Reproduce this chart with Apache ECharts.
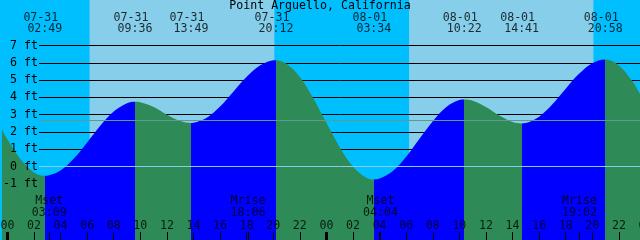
<!DOCTYPE html>
<html><head><meta charset="utf-8">
<script src="https://cdn.jsdelivr.net/npm/echarts@6/dist/echarts.min.js"></script>
<style>html,body{margin:0;padding:0;background:#00BFFF}#c{width:640px;height:240px}</style>
</head><body><div id="c"></div>
<script>
// ---------- data (times are hours after 07-31 00:00) ----------
const TITLE = 'Point Arguello, California';
const DAYS = ['07-31', '08-01'];
const WINDOW_START = -0.4125;
const WINDOW_END = 47.5875;

const extremeDates = ['07-31', '07-31', '07-31', '07-31', '08-01', '08-01', '08-01', '08-01'];
const extremeClock = ['02:49', '09:36', '13:49', '20:12', '03:34', '10:22', '14:41', '20:58'];
const extremeKinds = ['low', 'high', 'low', 'high', 'low', 'high', 'low', 'high'];

const moonDates = ['07-31', '07-31', '08-01', '08-01'];
const moonNames = ['Mset', 'Mrise', 'Mset', 'Mrise'];
const moonClock = ['03:09', '18:06', '04:04', '19:02'];

const sunriseDates = ['07-31', '08-01'];
const sunriseClock = ['06:11', '06:13'];
const sunsetClock = ['20:05', '20:05'];

// tide height (ft)
const tideHours = [-0.41, 0, 1, 2, 2.82, 3, 4, 5, 6, 7, 8, 9, 9.6, 10, 11, 12, 13, 13.82, 14, 15, 16, 17, 18, 19, 20, 20.2,
  21, 22, 23, 24, 25, 26, 27, 27.57, 28, 29, 30, 31, 32, 33, 34, 34.37, 35, 36, 37, 38, 38.68, 39, 40, 41, 42, 43, 44, 44.97, 46, 47, 47.59];
const tideFeet = [2.13, 1.57, 0.40, -0.34, -0.54, -0.53, -0.23, 0.46, 1.39, 2.37, 3.18, 3.66, 3.74, 3.71, 3.44, 3.00, 2.63, 2.52, 2.53, 2.82,
  3.47, 4.33, 5.19, 5.84, 6.14, 6.15, 5.95, 5.18, 3.97, 2.53, 1.12, -0.01, -0.65, -0.75, -0.70, -0.26, 0.56, 1.60, 2.62, 3.43, 3.84, 3.87,
  3.80, 3.44, 2.95, 2.57, 2.49, 2.51, 2.88, 3.60, 4.50, 5.36, 5.98, 6.19, 5.85, 4.94, 4.19];

const depthLabels = [-1, 0, 1, 2, 3, 4, 5, 6, 7];
const depthLines = [1, 2, 3, 4, 5, 6, 7];
const datumFeet = 0;
const mslFeet = 2.66;

const hourTicks = [0, 2, 4, 6, 8, 10, 12, 14, 16, 18, 20, 22, 24, 26, 28, 30, 32, 34, 36, 38, 40, 42, 44, 46];
const hourLabels = [0, 2, 4, 6, 8, 10, 12, 14, 16, 18, 20, 22, 24, 26, 28, 30, 32, 34, 36, 38, 40, 42, 44, 46, 48];
const midnightTicks = [0, 24];

// ---------- layout / style ----------
const Y_MIN = -4.2521, Y_MAX = 9.6322;
const FONT = 'DejaVu Sans Mono';
const FS = 11.6;
const C_NIGHT = '#00BFFF', C_DAY = '#87CEEB', C_FLOOD = '#0000FF', C_EBB = '#2E8B57';

function toHour(date, clock) {
  const p = clock.split(':');
  return DAYS.indexOf(date) * 24 + (+p[0]) + (+p[1]) / 60;
}
const extremeTimes = extremeClock.map((c, i) => toHour(extremeDates[i], c));
const moonTimes = moonClock.map((c, i) => toHour(moonDates[i], c));

// flood/ebb pieces
const pieces = [];
pieces.push({ lt: extremeTimes[0], color: extremeKinds[0] === 'low' ? C_EBB : C_FLOOD });
for (let i = 0; i < extremeTimes.length - 1; i++) {
  pieces.push({ gte: extremeTimes[i], lt: extremeTimes[i + 1], color: extremeKinds[i] === 'low' ? C_FLOOD : C_EBB });
}
const last = extremeTimes.length - 1;
pieces.push({ gte: extremeTimes[last], color: extremeKinds[last] === 'high' ? C_EBB : C_FLOOD });

const dayBands = sunriseClock.map((c, i) => [
  { xAxis: toHour(sunriseDates[i], c) },
  { xAxis: toHour(sunriseDates[i], sunsetClock[i]) }
]);

const textStyle = { fontFamily: FONT, fontSize: FS, color: '#000' };
function labelSeries(points, row, offset) {
  return {
    type: 'scatter', xAxisIndex: 0, yAxisIndex: 1, clip: false, silent: true, z: 10,
    symbolSize: 0,
    data: points.map(p => ({ value: [p[0], row], name: p[1] })),
    label: Object.assign({ show: true, position: 'inside', formatter: '{b}', offset: offset || [0, 0] }, textStyle)
  };
}
const pad = n => String(n % 24).padStart(2, '0');

const chart = echarts.init(document.getElementById('c'), null, { renderer: 'canvas' });
const xBase = { type: 'value', min: WINDOW_START, max: WINDOW_END, gridIndex: 0, position: 'bottom', z: 10,
  axisLine: { show: false, onZero: false }, splitLine: { show: false }, axisLabel: { show: false } };
chart.setOption({
  animation: false,
  backgroundColor: C_NIGHT,
  title: { text: TITLE, left: 'center', top: 0, padding: 0,
    textStyle: { fontFamily: FONT, fontSize: FS, fontWeight: 'normal', color: '#000' } },
  grid: { left: 0, right: 0, top: 0, bottom: 0, containLabel: false },
  xAxis: [
    Object.assign({}, xBase, { axisTick: { show: true, inside: true, length: 8, customValues: hourTicks, lineStyle: { color: '#000', width: 1 } } }),
    Object.assign({}, xBase, { axisTick: { show: true, inside: true, length: 8, customValues: midnightTicks, lineStyle: { color: '#000', width: 3 } } }),
    Object.assign({}, xBase, { axisTick: { show: true, inside: true, length: 8, customValues: moonTimes, lineStyle: { color: '#000', width: 1 } } })
  ],
  yAxis: [
    { type: 'value', min: Y_MIN, max: Y_MAX, z: 10, axisLine: { show: false, onZero: false }, axisTick: { show: false }, splitLine: { show: false },
      axisLabel: Object.assign({ inside: true, margin: 36, align: 'right', customValues: depthLabels, formatter: v => v + ' ft' }, textStyle) },
    { type: 'value', min: 0, max: 240, inverse: true, show: false }
  ],
  visualMap: { type: 'piecewise', show: false, dimension: 0, seriesIndex: 0, pieces: pieces },
  series: [
    {
      type: 'line', xAxisIndex: 0, yAxisIndex: 0, z: 2,
      data: tideHours.map((h, i) => [h, tideFeet[i]]),
      symbol: 'none', smooth: 0.35, silent: true,
      lineStyle: { width: 0 },
      areaStyle: { opacity: 1, origin: 'start' },
      markArea: { z: 1, silent: true, itemStyle: { color: C_DAY }, data: dayBands },
      markLine: { z: 1.5, silent: true, symbol: 'none', label: { show: false },
        lineStyle: { color: '#000', width: 1, type: 'solid' },
        data: depthLines.map(v => [{ x: 39, yAxis: v }, { x: '100%', yAxis: v }]) }
    },
    {
      type: 'line', xAxisIndex: 0, yAxisIndex: 0, data: [], silent: true,
      markLine: { z: 5, silent: true, symbol: 'none', label: { show: false },
        data: [
          [{ x: 39, yAxis: datumFeet, lineStyle: { color: '#87CEEB', width: 1, type: 'solid' } }, { x: '100%', yAxis: datumFeet }],
          [{ x: 39, yAxis: mslFeet, lineStyle: { color: '#5B9C8E', width: 1, type: 'solid' } }, { x: '100%', yAxis: mslFeet }]
        ] }
    },
    labelSeries(hourLabels.map(h => [h, pad(h)]), 225.5),
    labelSeries(extremeTimes.map((t, i) => [t, extremeDates[i]]), 17.5, [-4, 0]),
    labelSeries(extremeTimes.map((t, i) => [t, extremeClock[i]]), 29.2),
    labelSeries(moonTimes.map((t, i) => [t, moonNames[i]]), 201),
    labelSeries(moonTimes.map((t, i) => [t, moonClock[i]]), 213.2)
  ]
});
</script></body></html>
